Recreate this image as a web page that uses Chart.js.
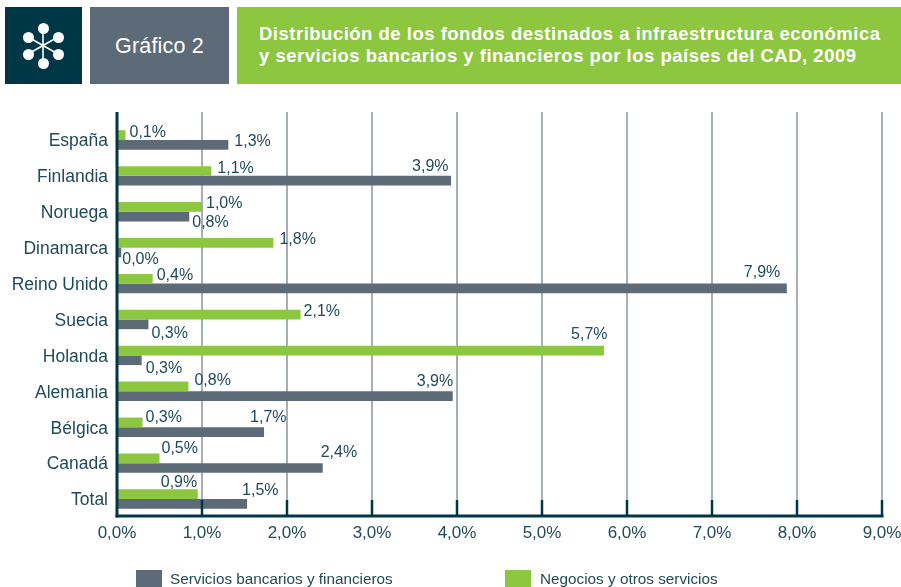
<!DOCTYPE html>
<html lang="es"><head><meta charset="utf-8">
<script src="https://cdn.jsdelivr.net/npm/chart.js@4"></script>
<style>
html,body{margin:0;padding:0;background:#fff;width:901px;height:587px;overflow:hidden;font-family:"Liberation Sans",sans-serif}
.abs{position:absolute}
#chartBox{left:0;top:0;width:901px;height:587px}
#icon{left:5px;top:7px;width:77px;height:77px;background:#003746}
#badge{left:90px;top:7px;width:139px;height:77px;background:#5d6b78;color:#fff;font-size:21.5px;line-height:78px;padding-left:25px;box-sizing:border-box;letter-spacing:.2px}
#titleBox{left:237px;top:7px;width:664px;height:77px;background:#8dc63f;color:#fff;font-weight:700;font-size:18.5px;line-height:22px;box-sizing:border-box;padding:16px 0 0 22px;letter-spacing:.5px;white-space:nowrap}
.lg{top:569px;height:18px;font-size:15.3px;line-height:20px;color:#1f4a59;white-space:nowrap}
.sw{top:570px;width:26px;height:17px}
</style></head><body>
<div class="abs" id="chartBox"><canvas id="c" width="901" height="587"></canvas></div>
<div class="abs" id="icon"><svg width="77" height="77" viewBox="0 0 77 77">
<g stroke="#fff" stroke-width="1.6"><line x1="38" y1="21" x2="38" y2="56"/><line x1="23" y1="30" x2="53" y2="47"/><line x1="53" y1="30" x2="23" y2="47"/></g>
<g fill="#fff"><circle cx="38.5" cy="21.5" r="5.5"/><circle cx="53.5" cy="30.5" r="5.5"/><circle cx="53.5" cy="47.5" r="5.5"/><circle cx="38.5" cy="56.5" r="5.5"/><circle cx="23.5" cy="47.5" r="5.5"/><circle cx="23.5" cy="30.5" r="5.5"/></g>
</svg></div>
<div class="abs" id="badge">Gráfico 2</div>
<div class="abs" id="titleBox">Distribución de los fondos destinados a infraestructura económica<br>y servicios bancarios y financieros por los países del CAD, 2009</div>
<div class="abs sw" style="left:136px;background:#5d6b78"></div>
<div class="abs lg" style="left:170px">Servicios bancarios y financieros</div>
<div class="abs sw" style="left:505px;background:#8dc63f"></div>
<div class="abs lg" style="left:540px">Negocios y otros servicios</div>
<script>
const categories = ["España","Finlandia","Noruega","Dinamarca","Reino Unido","Suecia","Holanda","Alemania","Bélgica","Canadá","Total"];
const negociosValues = [0.1,1.11,1.0,1.84,0.42,2.16,5.73,0.84,0.3,0.5,0.95];
const serviciosValues = [1.31,3.93,0.85,0.05,7.88,0.37,0.29,3.95,1.73,2.42,1.53];
const negociosLabels = ["0,1%","1,1%","1,0%","1,8%","0,4%","2,1%","5,7%","0,8%","0,3%","0,5%","0,9%"];
const serviciosLabels = ["1,3%","3,9%","0,8%","0,0%","7,9%","0,3%","0,3%","3,9%","1,7%","2,4%","1,5%"];
const xTicks = ["0,0%","1,0%","2,0%","3,0%","4,0%","5,0%","6,0%","7,0%","8,0%","9,0%"];
const negociosName = "Negocios y otros servicios";
const serviciosName = "Servicios bancarios y financieros";

// label nudges relative to each bar tip, as in the source layout
const negociosDx = [4,6,4,6,4,3,-33,6,3,2,-37];
const negociosDy = [-2.5,-2.5,-3.5,-3.5,-3.5,-3.5,-15.5,-5.5,-4.5,-9.5,-11.5];
const serviciosDx = [6,-39,3,1,-43,3,4,-36,-14,-2,-5];
const serviciosDy = [-3,-14,6,7,-16,9,8,-15,-14,-15,-13];

const DARK = "#003746", GRID = "#a6aeb6", TEXT = "#1f4a59", FONT = '"Liberation Sans", sans-serif';

const frame = {
  id: "frame",
  beforeDatasetsDraw(chart) {
    const {ctx, chartArea: a, scales: {x}} = chart;
    ctx.save();
    ctx.lineWidth = 2;
    x.ticks.forEach(t => {
      const p = x.getPixelForValue(t.value);
      if (t.value > 0) {
        ctx.strokeStyle = GRID;
        ctx.beginPath(); ctx.moveTo(p, 112); ctx.lineTo(p, a.top); ctx.stroke();
      }
    });
    ctx.restore();
  },
  afterDatasetsDraw(chart) {
    const {ctx, chartArea: a, scales: {x}} = chart;
    ctx.save();
    ctx.strokeStyle = DARK;
    ctx.lineWidth = 2.5;
    x.ticks.forEach(t => {
      const p = x.getPixelForValue(t.value);
      if (t.value > 0) { ctx.beginPath(); ctx.moveTo(p, 500); ctx.lineTo(p, a.bottom); ctx.stroke(); }
    });
    ctx.lineWidth = 3;
    const x0 = x.getPixelForValue(0);
    ctx.beginPath(); ctx.moveTo(x0, 112); ctx.lineTo(x0, 517.5); ctx.stroke();
    ctx.beginPath(); ctx.moveTo(x0 - 1.5, 516); ctx.lineTo(x.getPixelForValue(9) + 1.5, 516); ctx.stroke();
    ctx.fillStyle = TEXT;
    ctx.font = "16px " + FONT;
    ctx.textAlign = "left";
    ctx.textBaseline = "middle";
    const sets = [[negociosLabels, negociosDx, negociosDy], [serviciosLabels, serviciosDx, serviciosDy]];
    sets.forEach(([labels, dx, dy], d) => {
      chart.getDatasetMeta(d).data.forEach((bar, i) => {
        ctx.fillText(labels[i], bar.x + dx[i], bar.y + dy[i]);
      });
    });
    ctx.restore();
  }
};

new Chart(document.getElementById("c"), {
  type: "bar",
  data: {
    labels: categories,
    datasets: [
      {label: negociosName, data: negociosValues, backgroundColor: "#8dc63f"},
      {label: serviciosName, data: serviciosValues, backgroundColor: "#5d6b78"}
    ]
  },
  options: {
    indexAxis: "y",
    responsive: false,
    animation: false,
    layout: {padding: {left: 0, right: 19, top: 122, bottom: 20}},
    datasets: {bar: {categoryPercentage: 0.54, barPercentage: 1}},
    plugins: {legend: {display: false}, title: {display: false}, tooltip: {enabled: false}},
    scales: {
      x: {
        min: 0, max: 9,
        afterFit: s => { s.height = 50; s.paddingLeft = 0; s.paddingRight = 0; },
        grid: {color: GRID, lineWidth: 2, drawTicks: false},
        border: {display: false},
        ticks: {
          stepSize: 1, color: TEXT, padding: 6, maxRotation: 0, autoSkip: false,
          font: {family: FONT, size: 17},
          callback: (v, i) => xTicks[i]
        }
      },
      y: {
        afterFit: s => { s.width = 117; },
        grid: {display: false},
        border: {display: false},
        ticks: {color: TEXT, padding: 1, labelOffset: 1.5, font: {family: FONT, size: 17.5}}
      }
    }
  },
  plugins: [frame]
});
</script>
</body></html>
